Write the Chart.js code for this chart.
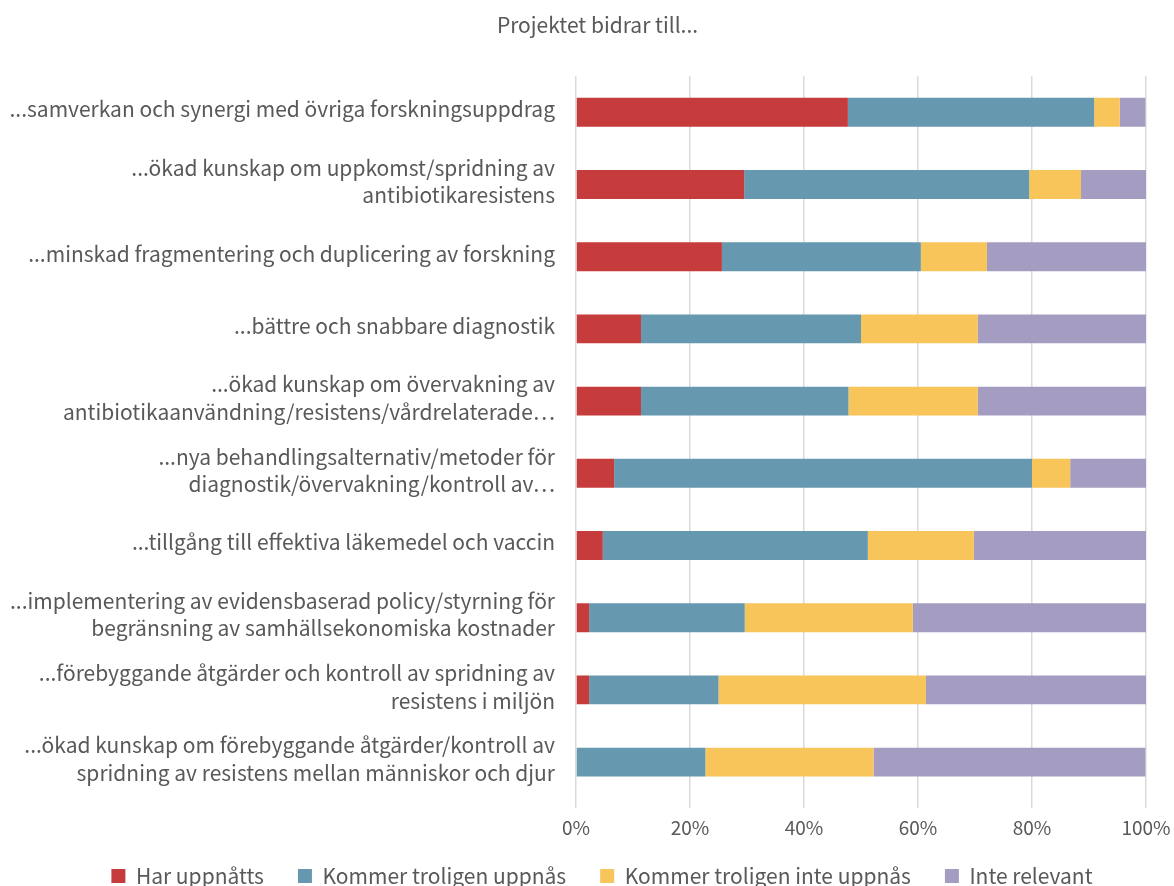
<!DOCTYPE html>
<html>
<head>
<meta charset="utf-8">
<script src="https://cdn.jsdelivr.net/npm/chart.js@4.4.1/dist/chart.umd.min.js"></script>
<style>
  html, body { margin: 0; padding: 0; background: #fff; }
  #wrap { width: 1174px; height: 886px; position: relative; }
</style>
</head>
<body>
<div id="wrap"><canvas id="chart"></canvas></div>
<script>
const categories = [
  ['...samverkan och synergi med övriga forskningsuppdrag'],
  ['...ökad kunskap om uppkomst/spridning av', 'antibiotikaresistens'],
  ['...minskad fragmentering och duplicering av forskning'],
  ['...bättre och snabbare diagnostik'],
  ['...ökad kunskap om övervakning av', 'antibiotikaanvändning/resistens/vårdrelaterade⋯'],
  ['...nya behandlingsalternativ/metoder för', 'diagnostik/övervakning/kontroll av⋯'],
  ['...tillgång till effektiva läkemedel och vaccin'],
  ['...implementering av evidensbaserad policy/styrning för', 'begränsning av samhällsekonomiska kostnader'],
  ['...förebyggande åtgärder och kontroll av spridning av', 'resistens i miljön'],
  ['...ökad kunskap om förebyggande åtgärder/kontroll av', 'spridning av resistens mellan människor och djur']
];
const harUppnatts   = [47.7, 29.5, 25.6, 11.4, 11.4, 6.7, 4.7, 2.3, 2.3, 0];
const kommerUppnas  = [43.2, 50.0, 34.9, 38.6, 36.4, 73.3, 46.5, 27.3, 22.7, 22.7];
const kommerInte    = [4.5, 9.1, 11.6, 20.5, 22.7, 6.7, 18.6, 29.5, 36.4, 29.5];
const inteRelevant  = [4.5, 11.4, 27.9, 29.5, 29.5, 13.3, 30.2, 40.9, 38.6, 47.7];
const xTicks = [0, 20, 40, 60, 80, 100];

const FONT = "'Noto Sans CJK JP', 'Noto Sans', sans-serif";
const GREY = '#595959';

function ds(label, data, color) {
  return { label, data, backgroundColor: color, borderWidth: 0, barPercentage: 0.8, categoryPercentage: 0.5 };
}

// nudge legend + title to where the original has them
const shiftBoxes = {
  id: 'shiftBoxes',
  afterLayout(chart) {
    const lg = chart.legend;
    if (lg && lg.legendHitBoxes.length) {
      const itemH = lg.legendHitBoxes[0].height;
      const dy = 876 - (lg.top + lg.options.labels.padding + itemH / 2);
      const dx = 602 - (lg.left + lg.right) / 2;
      lg.top += dy; lg.bottom += dy;
      lg.left += dx; lg.right += dx;
    }
    const tb = chart.titleBlock;
    if (tb) {
      const dx = 597.5 - (tb.left + tb.right) / 2;
      tb.left += dx; tb.right += dx;
    }
  }
};

new Chart(document.getElementById('chart'), {
  type: 'bar',
  data: {
    labels: categories,
    datasets: [
      ds('Har uppnåtts', harUppnatts, '#C63B3B'),
      ds('Kommer troligen uppnås', kommerUppnas, '#6699B0'),
      ds('Kommer troligen inte uppnås', kommerInte, '#F7C55A'),
      ds('Inte relevant', inteRelevant, '#A59DC1')
    ]
  },
  plugins: [shiftBoxes],
  options: {
    indexAxis: 'y',
    responsive: true,
    maintainAspectRatio: false,
    animation: false,
    layout: { padding: { left: 4, right: 0, top: 6, bottom: -26 } },
    plugins: {
      title: {
        display: true,
        text: 'Projektet bidrar till...',
        color: GREY,
        font: { family: FONT, size: 21, weight: 'normal' },
        padding: { top: 6, bottom: 39 }
      },
      legend: {
        position: 'bottom',
        labels: {
          color: GREY,
          font: { family: FONT, size: 21 },
          boxWidth: 14,
          boxHeight: 14,
          padding: 34
        }
      },
      tooltip: { enabled: false }
    },
    scales: {
      x: {
        stacked: true,
        min: 0,
        max: 100,
        afterBuildTicks: axis => { axis.ticks = xTicks.map(v => ({ value: v })); },
        afterFit: axis => { axis.paddingRight = 28; },
        ticks: {
          callback: v => v + '%',
          color: GREY,
          font: { family: FONT, size: 19 },
          padding: 8
        },
        grid: { color: '#D9D9D9', lineWidth: 1.5, drawTicks: true, tickLength: 10 },
        border: { display: false }
      },
      y: {
        stacked: true,
        afterFit: axis => { axis.width = 572; },
        ticks: {
          color: GREY,
          font: { family: FONT, size: 21, lineHeight: 1.3 },
          padding: 21,
          labelOffset: -3
        },
        grid: { display: false, drawTicks: false },
        border: { display: false }
      }
    }
  }
});
</script>
</body>
</html>
